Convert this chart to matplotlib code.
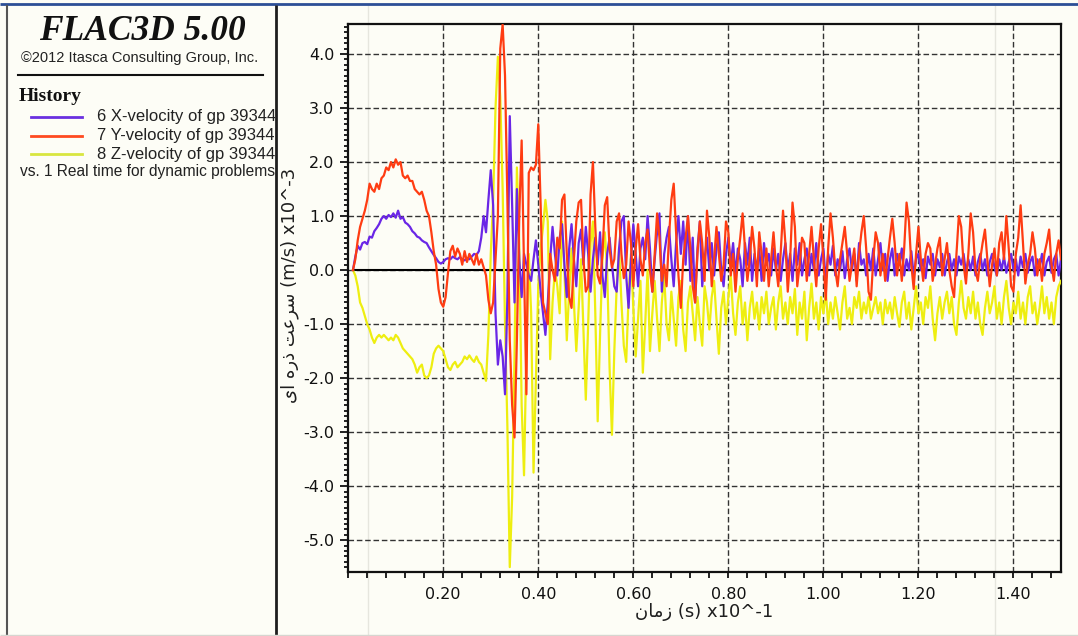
import numpy as np
import matplotlib
matplotlib.use("Agg")
import matplotlib.pyplot as plt
from matplotlib.lines import Line2D
from matplotlib.ticker import FixedLocator, MultipleLocator, FormatStrFormatter
from matplotlib.transforms import Bbox, TransformedBbox

plt.rcParams['axes.unicode_minus'] = False

# ---------------------------------------------------------------- data
# history sampling: first record and interval, in units of 1e-1 s
t_first = 0.01
t_step = 0.005

# velocities of grid point 39344, units of 1e-3 m/s (10 samples per row)
x_vel = [
    0.0, 0.25, 0.45, 0.38, 0.5, 0.52, 0.48, 0.62, 0.6, 0.72,
    0.78, 0.85, 0.95, 1.0, 0.95, 1.02, 0.98, 1.05, 0.97, 1.1,
    0.95, 0.98, 0.88, 0.85, 0.8, 0.72, 0.68, 0.62, 0.6, 0.55,
    0.52, 0.5, 0.42, 0.35, 0.28, 0.22, 0.15, 0.12, 0.15, 0.2,
    0.22, 0.2, 0.25, 0.22, 0.2, 0.24, 0.2, 0.18, 0.22, 0.2,
    0.25, 0.3, 0.28, 0.35, 0.6, 1.0, 0.7, 1.3, 1.85, 1.2,
    -0.8, -1.75, -1.3, -1.6, -2.3, -0.5, 2.85, 1.2, -0.6, 1.5,
    0.2, -0.5, 0.3, 0.1, -0.1, -0.2, 0.2, 0.55, 0.1, -0.4,
    -0.8, -1.2, -0.6, 0.2, 0.8, 0.3, -0.1, 0.6, 0.85, 0.1,
    -0.5, 0.4, 0.85, 0.2, -0.3, 0.5, 0.75, 0.1, 0.8, 0.3,
    -0.4, 0.2, 0.6, 0.1, 0.7, -0.1, -0.5, 0.3, 0.6, 0.1,
    -0.3, -0.4, 0.4, 0.9, 1.0, -0.1, -0.7, 0.2, 0.85, 0.3,
    -0.3, 0.4, 0.6, 0.2, 1.0, 0.4, -0.4, 0.2, 0.7, 1.05,
    -0.4, 0.3, 0.6, 0.8, 0.2, -0.3, 0.5, 1.0, 0.3, 0.9,
    0.1, 1.0, -0.2, 0.6, -0.6, 0.4, 0.9, -0.3, 0.2, 0.6,
    0.0, 0.5, -0.1, 0.4, 0.7, 0.0, -0.3, 0.3, 0.6, 0.1,
    0.5, -0.1, 0.4, 0.2, -0.3, 0.5, 0.1, 0.6, -0.2, 0.3,
    0.0, 0.4, -0.2, 0.5, 0.1, 0.3, -0.1, 0.4, 0.0, 0.3,
    -0.2, 0.2, 0.5, 0.0, 0.3, -0.2, 0.4, 0.1, 0.5, -0.1,
    0.2, 0.4, -0.1, 0.3, 0.0, 0.5, -0.1, 0.2, 0.4, -0.2,
    0.3, 0.1, 0.45, -0.1, 0.2, 0.0, 0.35, -0.15, 0.2, 0.4,
    0.0, 0.3, -0.2, 0.5, 0.1, 0.2, -0.1, 0.3, 0.0, 0.4,
    -0.1, 0.2, 0.5, 0.0, 0.3, -0.2, 0.2, 0.4, -0.1, 0.3,
    0.1, 0.4, -0.1, 0.2, 0.0, 0.35, -0.1, 0.2, 0.3, 0.0,
    0.2, -0.15, 0.25, 0.1, 0.3, -0.1, 0.2, 0.05, 0.3, -0.1,
    0.15, 0.3, 0.0, 0.2, -0.1, 0.25, 0.1, 0.3, -0.05, 0.2,
    0.0, 0.25, -0.1, 0.15, 0.3, 0.0, 0.2, -0.1, 0.15, 0.3,
    0.05, -0.1, 0.2, 0.0, 0.25, -0.05, 0.15, 0.3, 0.0, 0.2,
    -0.1, 0.25, 0.05, 0.3, -0.05, 0.15, 0.25, -0.1, 0.2, 0.05,
    0.3, -0.1, 0.15, 0.25, -0.05, 0.2, 0.3, -0.1, 0.2,
]

y_vel = [
    0.0, 0.2, 0.55, 0.8, 0.95, 1.1, 1.3, 1.6, 1.5, 1.45,
    1.6, 1.5, 1.7, 1.75, 1.9, 1.85, 2.0, 1.9, 2.05, 1.95,
    2.0, 1.75, 1.7, 1.75, 1.65, 1.65, 1.5, 1.45, 1.4, 1.45,
    1.3, 1.1, 1.0, 0.7, 0.35, 0.1, -0.35, -0.6, -0.68, -0.5,
    -0.05, 0.35, 0.45, 0.25, 0.4, 0.3, 0.1, 0.35, 0.15, 0.3,
    0.2, 0.1, 0.3, 0.1, 0.2, 0.05, -0.1, -0.55, -0.8, -0.6,
    0.2, 1.0, 4.1, 4.55, 3.6, 1.3, -1.3, -2.5, -3.1, -1.3,
    1.0, 2.4, 0.0, -2.3, 1.8, 1.9, 1.85, 1.95, 2.7, 1.2,
    -0.6, -0.8, -1.0, 0.3, 0.0, -0.2, 0.6, 0.4, 1.3, 1.4,
    0.3, -0.5, -0.7, 0.2, 0.9, 1.25, 1.3, 0.2, -0.4, -0.3,
    1.4, 2.0, 0.8, -0.1, -0.25, 0.3, 1.2, 1.35, 0.4, 0.05,
    0.2, 0.9, 1.05, 0.3, -0.15, 0.1, 0.9, 0.5, -0.3, 0.4,
    0.85, 0.2, -0.1, 0.5, 0.75, 0.0, -0.4, 0.3, 1.05, 0.6,
    -0.2, 0.1, -0.3, 0.6, 1.3, 1.6, 0.7, -0.1, -0.7, 0.2,
    0.6, 1.0, 0.4, -0.3, -0.6, 0.3, 0.9, 0.5, -0.2, 1.1,
    0.6, -0.3, 0.2, 0.8, 0.3, -0.2, 0.1, 0.9, 0.7, -0.1,
    0.3, -0.4, 0.2, 0.6, 1.05, 0.4, -0.2, 0.2, 0.8, 0.4,
    -0.3, 0.7, 0.3, -0.2, 0.4, -0.3, 0.2, 0.7, 0.1, -0.3,
    0.3, 1.1, 0.5, -0.4, 0.2, 1.25, 0.8, -0.3, 0.1, 0.6,
    0.5, -0.2, 0.3, 0.8, 0.2, -0.3, 0.4, 0.85, 0.2, -0.55,
    0.4, 1.05, 0.6, 0.0, -0.3, 0.2, 0.5, 0.8, 0.3, -0.2,
    0.1, 0.4, -0.3, 0.3, 0.7, 1.0, 0.4, -0.4, -0.55, 0.2,
    0.7, 0.5, -0.1, 0.3, -0.2, 0.2, 0.6, 0.95, 0.5, -0.1,
    0.3, -0.2, 0.4, 1.25, 0.9, 0.1, -0.35, 0.3, 0.8, 0.2,
    -0.2, 0.3, 0.5, 0.4, -0.2, 0.1, 0.4, 0.6, -0.1, 0.2,
    0.5, 0.0, -0.3, -0.5, 0.3, 1.0, 0.8, 0.1, -0.25, 0.3,
    1.05, 0.7, 0.0, -0.2, 0.2, 0.5, 0.75, 0.2, -0.3, 0.1,
    0.4, -0.1, 0.5, 0.7, 0.2, 1.0, 0.4, -0.3, -0.4, 0.3,
    0.6, 1.2, 0.5, -0.25, 0.1, 0.3, 0.7, 0.4, -0.1, 0.2,
    -0.2, 0.3, 0.5, 0.75, 0.1, -0.2, 0.3, 0.55, 0.2,
]

z_vel = [
    0.0, -0.1, -0.3, -0.6, -0.7, -0.85, -1.0, -1.1, -1.25, -1.35,
    -1.25, -1.2, -1.25, -1.2, -1.25, -1.3, -1.25, -1.3, -1.2, -1.25,
    -1.35, -1.45, -1.5, -1.55, -1.6, -1.65, -1.75, -1.9, -1.8, -1.75,
    -1.95, -2.0, -1.95, -1.8, -1.55, -1.45, -1.4, -1.45, -1.5, -1.65,
    -1.8, -1.85, -1.75, -1.7, -1.8, -1.75, -1.7, -1.6, -1.65, -1.58,
    -1.65, -1.7, -1.6, -1.7, -1.75, -1.9, -2.05, -1.2, 0.3, 1.3,
    3.0, 3.95, 3.2, 1.5, -1.0, -2.9, -5.5, -4.2, -1.6, 1.9,
    0.5, -2.5, -3.8, -1.5, 0.3, -0.8, -3.75, -2.0, -0.3, 0.4,
    0.8, 1.3, 0.9, -1.65, -0.6, 0.0, -0.3, -0.8, 0.9, 0.0,
    -1.3, -0.4, 0.4, -0.6, -1.5, -0.7, 0.2, -1.1, -2.4, -1.0,
    0.5, 0.9, -0.8, -2.8, -1.2, 0.2, 0.7, 0.0, -1.8, -3.05,
    -1.5, -0.3, 0.4, -0.6, -1.4, -1.7, -0.5, 0.3, -0.7, -1.6,
    -0.9, -0.2, -1.9, -1.0, 0.0, -1.5, -0.8, -0.2, -0.9, -1.5,
    -0.6, -0.1, -1.0, -1.3, -0.4, -0.9, -1.4, -0.5, -0.2, -1.1,
    -1.5, -0.6, -0.3, -0.8, -1.3, -0.5, -1.0, -1.4, -0.3, -0.6,
    -1.1, -0.5, -0.2, -0.9, -1.55, -0.7, -0.4, -1.0, -0.5, -0.1,
    -0.8, -1.2, -0.6, -0.3, -1.0, -0.6, -1.3, -0.7, -0.4, -0.9,
    -0.6, -1.1, -0.5, -0.8, -0.4, -1.0, -0.7, -0.5, -1.1, -0.6,
    -0.3, -0.9, -0.6, -1.0, -0.5, -0.8, -0.35, -1.2, -0.6, -0.9,
    -0.4, -1.3, -0.7, -0.25, -0.9, -0.6, -1.1, -0.5, -0.8, -0.4,
    -1.0, -0.6, -0.9, -0.5, -0.8, -1.1, -0.6, -0.3, -0.9, -0.7,
    -1.0, -0.5, -0.7, -0.4, -0.9, -0.6, -0.8, -0.5, -0.9, -0.7,
    -0.5, -0.8, -0.6, -1.0, -0.55, -0.8, -0.6, -0.9, -0.5, -0.8,
    -1.05, -0.6, -0.4, -0.9, -0.6, -1.1, -0.7, -0.3, -0.8, -0.6,
    -1.0, -0.5, -0.7, -0.3, -0.9, -1.3, -0.8, -0.5, -0.9, -0.6,
    -0.4, -0.8, -0.5, -1.0, -1.2, -0.6, -0.2, -0.7, -0.9, -0.5,
    -0.8, -0.4, -0.9, -0.6, -1.0, -1.2, -0.7, -0.4, -0.8, -0.6,
    -0.3, -0.9, -0.6, -1.0, -0.5, -0.2, -0.7, -1.0, -0.6, -0.8,
    -0.4, -0.9, -0.6, -1.0, -0.5, -0.3, -0.8, -0.6, -1.0, -0.7,
    -0.3, -0.8, -0.5, -0.9, -0.6, -1.0, -0.5, -0.3, -0.2,
]

series_labels = [
    "6 X-velocity of gp 39344",
    "7 Y-velocity of gp 39344",
    "8 Z-velocity of gp 39344",
]
abscissa_label = "vs. 1 Real time for dynamic problems"

x_ticks = [0.20, 0.40, 0.60, 0.80, 1.00, 1.20, 1.40]
y_ticks = [-5.0, -4.0, -3.0, -2.0, -1.0, 0.0, 1.0, 2.0, 3.0, 4.0]

# axis titles (Arabic in shaped presentation forms, visual order)
x_title = "\ufee5\ufe8e\ufee3\ufeaf (s) x10^-1"
y_title = "\ufeef\ufe8d \ufee9\ufead\ufeab \ufe96\ufecb\ufeae\ufeb3 (m/s) x10^-3"

# ---------------------------------------------------------------- style
W, H = 1078, 636
BG = "#fdfdf6"
COLORS = ["#6a26e6", "#ff3c12", "#eeee10"]
LEGEND_COLORS = ["#6a30e0", "#ff4a20", "#d8e640"]


def fx(px):
    return px / W


def fy(py):
    return 1.0 - py / H


time = t_first + t_step * np.arange(len(x_vel))

fig = plt.figure(figsize=(W / 100, H / 100), dpi=100, facecolor=BG)

# window frame
frame = [
    ((0, 4), (W, 4), "#2c4f96", 2.0, 5),
    ((7, 5), (7, H), "#555555", 1.5, 5),
    ((276, 5), (276, H), "#1e1e1e", 2.0, 5),
    ((0, 635), (W, 635), "#d6d6d0", 1.0, 5),
    ((368, 5), (368, H), "#e6e6de", 1.0, -1),
    ((995, 5), (995, H), "#e6e6de", 1.0, -1),
]
for (x0, y0), (x1, y1), c, lw, z in frame:
    fig.add_artist(Line2D([fx(x0), fx(x1)], [fy(y0), fy(y1)],
                          transform=fig.transFigure, color=c, lw=lw,
                          zorder=z, solid_capstyle="butt"))

# ---------------------------------------------------------------- side panel
fig.text(fx(142), fy(39.5), "FLAC3D 5.00", ha="center", va="baseline",
         family="Liberation Serif", weight="bold", style="italic",
         fontsize=25.5, color="#111111")
fig.text(fx(140), fy(62), "\u00a92012 Itasca Consulting Group, Inc.",
         ha="center", va="baseline", family="Liberation Sans",
         fontsize=10.5, color="#222222")
fig.add_artist(Line2D([fx(18), fx(263)], [fy(75), fy(75)],
                      transform=fig.transFigure, color="#111111", lw=1.5))
fig.text(fx(19), fy(101), "History", ha="left", va="baseline",
         family="Liberation Serif", weight="bold", fontsize=14,
         color="#111111")

panel_clip = TransformedBbox(Bbox([[0, 0], [fx(275), 1]]), fig.transFigure)
for k, (lab, col) in enumerate(zip(series_labels, LEGEND_COLORS)):
    yy = [117, 135.5, 154][k]
    fig.add_artist(Line2D([fx(31), fx(82)], [fy(yy), fy(yy)],
                          transform=fig.transFigure, color=col, lw=2.0))
    t = fig.text(fx(97), fy(yy), lab, ha="left", va="center",
                 family="Liberation Sans", fontsize=12, color="#222222")
    t.set_clip_box(panel_clip)
    t.set_clip_on(True)
t = fig.text(fx(20), fy(172), abscissa_label, ha="left", va="center",
             family="Liberation Sans", fontsize=11.2, color="#222222")
t.set_clip_box(panel_clip)
t.set_clip_on(True)

# ---------------------------------------------------------------- history plot
ax_l, ax_r, ax_t, ax_b = 348.2, 1061.0, 24.0, 572.0
ax = fig.add_axes([fx(ax_l), fy(ax_b), (ax_r - ax_l) / W, (ax_b - ax_t) / H])
ax.set_facecolor("none")
ax.set_xlim(0.0, 1.5)
ax.set_ylim(-5.59, 4.556)

ax.xaxis.set_major_locator(FixedLocator(x_ticks))
ax.yaxis.set_major_locator(FixedLocator(y_ticks))
ax.xaxis.set_minor_locator(MultipleLocator(0.04))
ax.yaxis.set_minor_locator(MultipleLocator(0.1))
ax.xaxis.set_major_formatter(FormatStrFormatter("%.2f"))
ax.yaxis.set_major_formatter(FormatStrFormatter("%.1f"))

ax.grid(which="major", linestyle=(0, (4, 2)), color="#333333", lw=1.0,
        zorder=1)
ax.set_axisbelow(True)
for sp in ax.spines.values():
    sp.set_linewidth(1.6)
    sp.set_color("#111111")

ax.tick_params(which="both", direction="out", top=False, right=False,
               color="#111111", width=1.3)
ax.tick_params(axis="y", which="major", length=6, pad=4)
ax.tick_params(axis="y", which="minor", length=3)
ax.tick_params(axis="x", which="major", length=4.5, pad=6)
ax.tick_params(axis="x", which="minor", length=4.5)
for lab in ax.get_xticklabels() + ax.get_yticklabels():
    lab.set_family("DejaVu Sans")
    lab.set_fontsize(11.5)
    lab.set_color("#111111")

ax.hlines(0.0, time[0], time[-1], color="#000000", lw=1.5, zorder=2)
ax.plot(time, z_vel, color=COLORS[2], lw=1.6, zorder=3)
ax.plot(time, x_vel, color=COLORS[0], lw=1.6, zorder=4)
ax.plot(time, y_vel, color=COLORS[1], lw=1.6, zorder=5)

fig.text(fx(290), fy(285), y_title, rotation=90, ha="center", va="center",
         family="DejaVu Sans", fontsize=13, color="#1e1e1e")
fig.text(fx(704), fy(612), x_title, ha="center", va="center",
         family="DejaVu Sans", fontsize=13, color="#1e1e1e")

fig.savefig("out.png", dpi=100, facecolor=BG)
